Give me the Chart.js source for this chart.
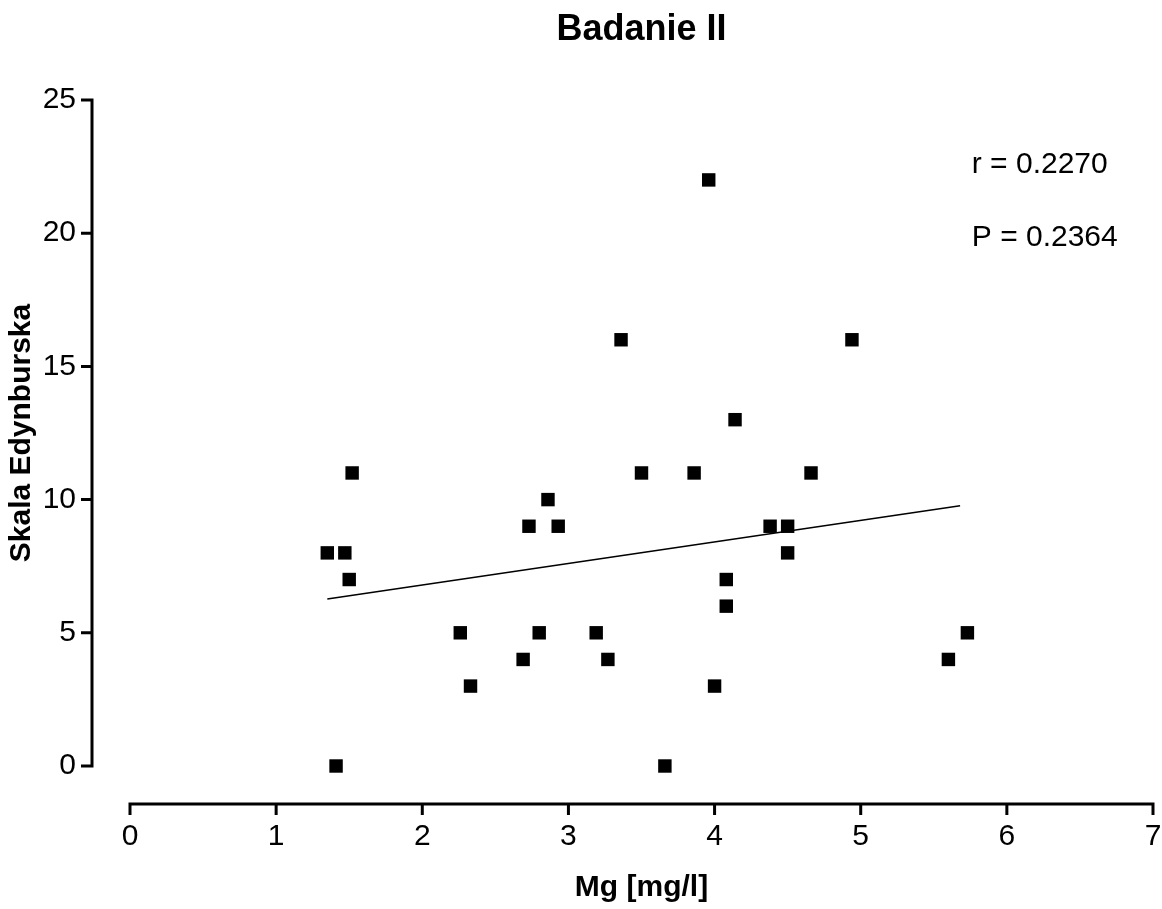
<!DOCTYPE html>
<html>
<head>
<meta charset="utf-8">
<script src="https://cdn.jsdelivr.net/npm/chart.js@4/dist/chart.umd.min.js"></script>
<style>
  html, body { margin: 0; padding: 0; background: #fff; }
  #wrap { width: 1162px; height: 909px; }
</style>
</head>
<body>
<div id="wrap"><canvas id="chart"></canvas></div>
<script>
const mgValues = [1.35, 1.41, 1.47, 1.50, 1.52, 2.26, 2.33, 2.69, 2.73, 2.80,
                  2.86, 2.93, 3.19, 3.27, 3.36, 3.50, 3.66, 3.86, 3.96, 4.00,
                  4.08, 4.08, 4.14, 4.38, 4.50, 4.50, 4.66, 4.94, 5.60, 5.73];
const scaleValues = [8, 0, 8, 7, 11, 5, 3, 4, 9, 5,
                     10, 9, 5, 4, 16, 11, 0, 11, 22, 3,
                     7, 6, 13, 9, 9, 8, 11, 16, 4, 5];
const fitLine = [{ x: 1.35, y: 6.27 }, { x: 5.68, y: 9.77 }];
const statLabels = ['r = 0.2270', 'P = 0.2364'];
const xTicks = [0, 1, 2, 3, 4, 5, 6, 7];
const yTicks = [0, 5, 10, 15, 20, 25];

const FONT = '"Liberation Sans", Arial, Helvetica, sans-serif';

// Prism-style detached axes, drawn from the scales
const axesPlugin = {
  id: 'prismAxes',
  afterDraw(chart) {
    const ctx = chart.ctx;
    const xs = chart.scales.x, ys = chart.scales.y;
    const area = chart.chartArea;
    ctx.save();
    ctx.strokeStyle = '#000';
    ctx.lineWidth = 3;
    ctx.lineCap = 'butt';

    // y axis
    const ax = area.left - 38;
    ctx.beginPath();
    ctx.moveTo(ax, ys.getPixelForValue(25) - 1.5);
    ctx.lineTo(ax, ys.getPixelForValue(0) + 1.5);
    yTicks.forEach(v => {
      const py = ys.getPixelForValue(v);
      ctx.moveTo(ax, py);
      ctx.lineTo(ax - 11, py);
    });
    ctx.stroke();

    // x axis
    const ay = area.bottom + 38;
    ctx.beginPath();
    ctx.moveTo(xs.getPixelForValue(0) - 1.5, ay);
    ctx.lineTo(xs.getPixelForValue(7) + 1.5, ay);
    xTicks.forEach(v => {
      const px = xs.getPixelForValue(v);
      ctx.moveTo(px, ay);
      ctx.lineTo(px, ay + 11);
    });
    ctx.stroke();

    // stats text
    ctx.fillStyle = '#000';
    ctx.font = '30px ' + FONT;
    ctx.textAlign = 'left';
    ctx.textBaseline = 'alphabetic';
    ctx.fillText(statLabels[0], xs.getPixelForValue(5.76), ys.getPixelForValue(22.26));
    ctx.fillText(statLabels[1], xs.getPixelForValue(5.76), ys.getPixelForValue(19.52));
    ctx.restore();
  }
};

new Chart(document.getElementById('chart'), {
  type: 'scatter',
  data: {
    datasets: [
      {
        label: 'Badanie II',
        data: mgValues.map((x, i) => ({ x: x, y: scaleValues[i] })),
        pointStyle: 'rect',
        pointRadius: 9.5,
        pointHoverRadius: 9.5,
        backgroundColor: '#000',
        borderWidth: 0,
        clip: false
      },
      {
        type: 'line',
        label: 'fit',
        data: fitLine,
        borderColor: '#000',
        borderWidth: 1.5,
        pointRadius: 0,
        fill: false
      }
    ]
  },
  options: {
    responsive: true,
    maintainAspectRatio: false,
    animation: false,
    layout: { padding: { left: 0, right: 9, top: 0, bottom: 0 }, autoPadding: false },
    plugins: {
      legend: { display: false },
      tooltip: { enabled: false },
      title: {
        display: true,
        text: 'Badanie II',
        fullSize: false,
        color: '#000',
        font: { family: FONT, size: 36, weight: 'bold' },
        padding: { top: 8, bottom: 48.8 }
      }
    },
    scales: {
      x: {
        type: 'linear',
        min: 0,
        max: 7,
        afterFit(scale) {
          scale.height = 143;
          scale.paddingLeft = 0;
          scale.paddingRight = 0;
        },
        afterBuildTicks(scale) { scale.ticks = xTicks.map(v => ({ value: v })); },
        grid: { display: false, drawTicks: false },
        border: { display: false },
        ticks: { color: '#000', padding: 53, font: { family: FONT, size: 30 } },
        title: {
          display: true,
          text: 'Mg [mg/l]',
          color: '#000',
          font: { family: FONT, size: 30, weight: 'bold' },
          padding: { top: 0, bottom: 3 }
        }
      },
      y: {
        type: 'linear',
        min: 0,
        max: 25,
        afterFit(scale) { scale.width = 130; },
        afterBuildTicks(scale) { scale.ticks = yTicks.map(v => ({ value: v })); },
        grid: { display: false, drawTicks: false },
        border: { display: false },
        ticks: { color: '#000', padding: 54, font: { family: FONT, size: 30 } },
        title: {
          display: true,
          text: 'Skala Edynburska',
          color: '#000',
          font: { family: FONT, size: 30, weight: 'bold' },
          padding: { top: 4, bottom: 0 }
        }
      }
    }
  },
  plugins: [axesPlugin]
});
</script>
</body>
</html>
